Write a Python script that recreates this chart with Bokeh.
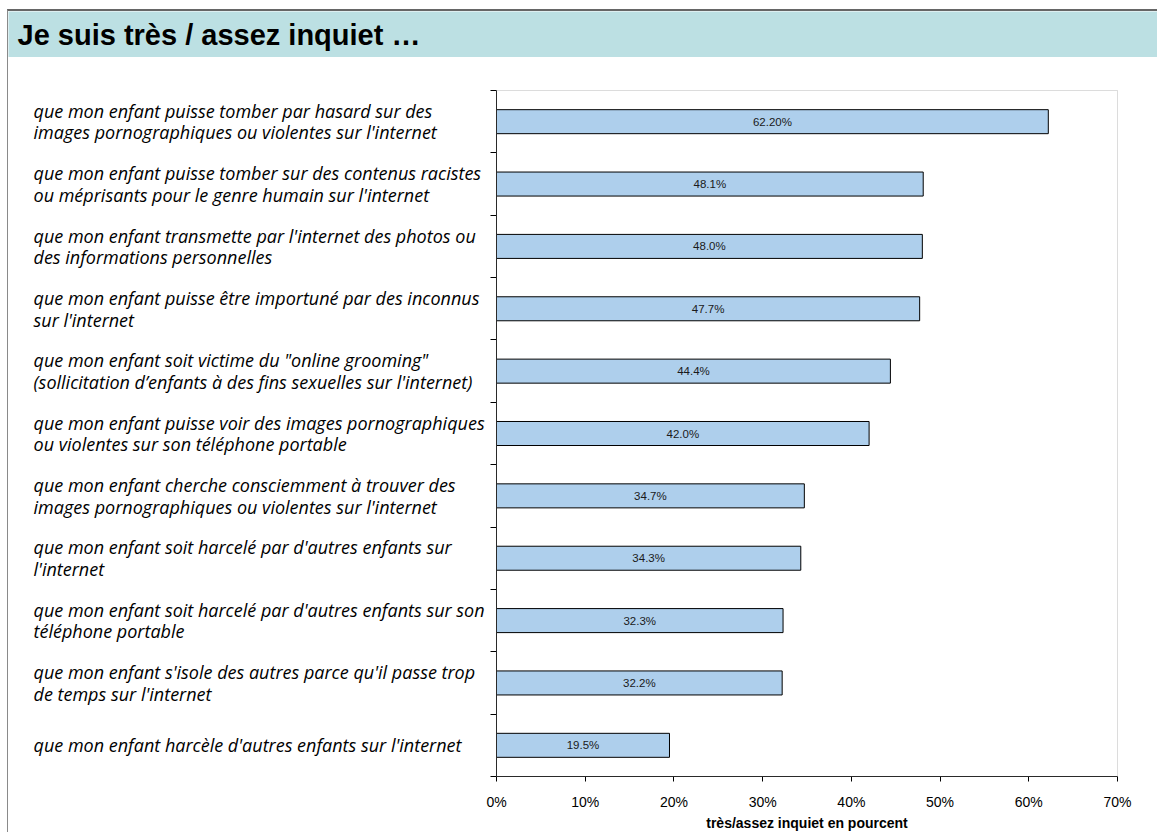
from bokeh.plotting import figure
from bokeh.models import Range1d, FixedTicker, PrintfTickFormatter, Label, ColumnDataSource, BoxAnnotation
from bokeh.layouts import column
from bokeh.core.properties import value
from bokeh.embed import file_html
from bokeh.resources import INLINE

title_text = "Je suis très / assez inquiet …"
x_axis_title = "très/assez inquiet en pourcent"

categories = [
    "que mon enfant puisse tomber par hasard sur des\nimages pornographiques ou violentes sur l'internet",
    "que mon enfant puisse tomber sur des contenus racistes\nou méprisants pour le genre humain sur l'internet",
    "que mon enfant transmette par l'internet des photos ou\ndes informations personnelles",
    "que mon enfant puisse être importuné par des inconnus\nsur l'internet",
    "que mon enfant soit victime du \"online grooming\"\n(sollicitation d’enfants à des fins sexuelles sur l'internet)",
    "que mon enfant puisse voir des images pornographiques\nou violentes sur son téléphone portable",
    "que mon enfant cherche consciemment à trouver des\nimages pornographiques ou violentes sur l'internet",
    "que mon enfant soit harcelé par d'autres enfants sur\nl'internet",
    "que mon enfant soit harcelé par d'autres enfants sur son\ntéléphone portable",
    "que mon enfant s'isole des autres parce qu'il passe trop\nde temps sur l'internet",
    "que mon enfant harcèle d'autres enfants sur l'internet",
]
values = [62.2, 48.1, 48.0, 47.7, 44.4, 42.0, 34.7, 34.3, 32.3, 32.2, 19.5]
value_labels = ["62.20%", "48.1%", "48.0%", "47.7%", "44.4%", "42.0%", "34.7%", "34.3%", "32.3%", "32.2%", "19.5%"]
x_ticks = [0, 10, 20, 30, 40, 50, 60, 70]

n = len(categories)
idx = list(range(n))

FIG_W = 1149
TITLE_H = 46
MAIN_H = 775
# pixel geometry of the chart area inside the lower figure
PLOT_L, PLOT_R = 488, 1109      # x of 0% and 70%
PLOT_T, PLOT_B = 33, 719        # top of first band, x-axis line

xmin, xmax = x_ticks[0], x_ticks[-1]
ppx = (PLOT_R - PLOT_L) / (xmax - xmin)
band = (PLOT_B - PLOT_T) / n
x_start = xmin - PLOT_L / ppx
x_end = xmax + (FIG_W - PLOT_R) / ppx
y_top = -0.5 - PLOT_T / band
y_bot = (n - 0.5) + (MAIN_H - PLOT_B) / band

# ---- title band ----
tf = figure(width=FIG_W, height=TITLE_H, x_range=Range1d(0, 1), y_range=Range1d(0, 1),
            toolbar_location=None, output_backend="svg", min_border=0,
            background_fill_color="#BCE0E3", border_fill_color="#BCE0E3",
            outline_line_color=None)
tf.axis.visible = False
tf.grid.visible = False
tf.add_layout(Label(x=9, y=23, x_units="screen", y_units="screen", text=title_text,
                    text_font="Liberation Sans", text_font_style="bold",
                    text_font_size="29px", text_baseline="middle", text_color="#000000"))

# ---- main chart ----
p = figure(width=FIG_W, height=MAIN_H, x_range=Range1d(x_start, x_end), y_range=Range1d(y_bot, y_top),
           toolbar_location=None, output_backend="svg", min_border=0,
           background_fill_color="white", border_fill_color="white", outline_line_color=None)
p.grid.visible = False

# plot-area box (gray; left and bottom covered by the black axes)
p.add_layout(BoxAnnotation(left=xmin, right=xmax, top=-0.5, bottom=n - 0.5,
                           fill_alpha=0, line_color="#8c8c8c", line_width=1))

src = ColumnDataSource(dict(y=idx, right=values, mid=[v / 2 for v in values], lab=value_labels))
p.hbar(y="y", left=0, right="right", height=0.385, source=src,
       fill_color="#AECFEC", line_color="#000000", line_width=1)
p.text(x="mid", y="y", text="lab", source=src, text_align="center", text_baseline="middle",
       text_font=value("Liberation Sans"), text_font_size="11.5px", text_color="#1a1a1a")

# category texts (left, italic)
csrc = ColumnDataSource(dict(x=[x_start] * n, y=idx, t=categories))
p.text(x="x", y="y", text="t", source=csrc, x_offset=25, text_align="left", text_baseline="middle",
       text_font=value("Open Sans"), text_font_style="italic", text_font_size="18px",
       text_line_height=0.9, text_color="#000000")

xa = p.xaxis[0]
xa.fixed_location = n - 0.5
xa.bounds = (xmin, xmax)
xa.ticker = FixedTicker(ticks=x_ticks)
xa.formatter = PrintfTickFormatter(format="%d%%")
xa.axis_line_color = "#000000"
xa.major_tick_line_color = "#000000"
xa.major_tick_in = 0
xa.major_tick_out = 5
xa.minor_tick_line_color = None
xa.major_label_text_font = "Liberation Sans"
xa.major_label_text_font_size = "14px"
xa.major_label_text_color = "#000000"
xa.major_label_standoff = 12
xa.axis_label = x_axis_title
xa.axis_label_text_font = "Liberation Sans"
xa.axis_label_text_font_style = "bold"
xa.axis_label_text_font_size = "14px"
xa.axis_label_text_color = "#000000"
xa.axis_label_standoff = 2

ya = p.yaxis[0]
ya.fixed_location = 0
ya.bounds = (-0.5, n - 0.5)
ya.ticker = FixedTicker(ticks=[], minor_ticks=[i - 0.5 for i in range(n + 1)])
ya.axis_line_color = "#000000"
ya.major_tick_line_color = None
ya.minor_tick_line_color = "#000000"
ya.minor_tick_in = 0
ya.minor_tick_out = 6

layout = column(tf, p, spacing=0,
                styles={"border-left": "1px solid #8a8a8a", "border-top": "2px solid #666666",
                        "margin-left": "7px", "margin-top": "9px"})

open("out.html", "w").write(file_html(layout, INLINE))
